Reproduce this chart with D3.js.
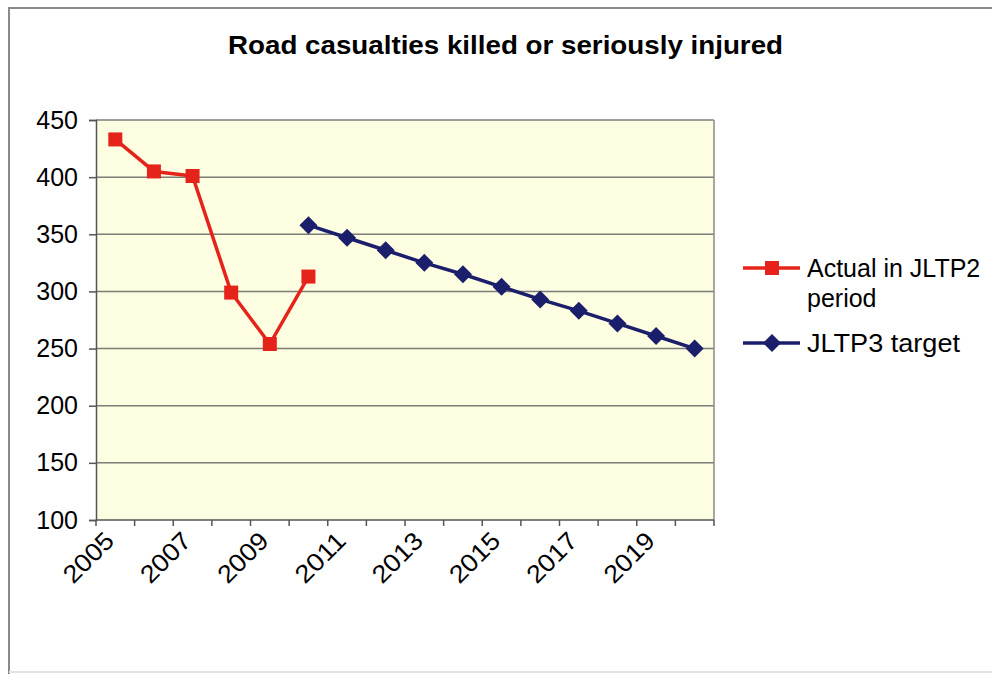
<!DOCTYPE html>
<html>
<head>
<meta charset="utf-8">
<script src="https://cdn.jsdelivr.net/npm/d3@7"></script>
<style>
  html, body { margin: 0; padding: 0; background: #fff; }
  svg { display: block; font-family: "Liberation Sans", Arial, sans-serif; }
</style>
</head>
<body>
<svg id="chart" width="992" height="674"></svg>
<script>
// Years on the category axis
const years = [2005, 2006, 2007, 2008, 2009, 2010, 2011, 2012, 2013, 2014, 2015, 2016, 2017, 2018, 2019, 2020];
// Actual casualties during the JLTP2 period
const actualYears = [2005, 2006, 2007, 2008, 2009, 2010];
const actualValues = [433, 405, 401, 299, 254, 313];
// JLTP3 target trajectory
const targetYears = [2010, 2011, 2012, 2013, 2014, 2015, 2016, 2017, 2018, 2019, 2020];
const targetValues = [358, 347, 336, 325, 315, 304, 293, 283, 272, 261, 250];
// Axis ticks
const yTicks = [100, 150, 200, 250, 300, 350, 400, 450];
const xTickLabels = [2005, 2007, 2009, 2011, 2013, 2015, 2017, 2019];
const seriesNames = ["Actual in JLTP2", "period", "JLTP3 target"];

const svg = d3.select("#chart");
const plot = { left: 96, right: 714, top: 120, bottom: 520 };
const red = "#e5231b";
const navy = "#1b1f6b";

// outer chart frame
svg.append("path")
  .attr("d", "M9,674 L9,8 L992,8")
  .attr("fill", "none").attr("stroke", "#8a8a8a").attr("stroke-width", 2);
svg.append("line")
  .attr("x1", 9).attr("x2", 992).attr("y1", 672).attr("y2", 672)
  .attr("stroke", "#e2e2e2").attr("stroke-width", 2);

const x = d3.scaleBand().domain(years).range([plot.left, plot.right]).padding(0);
const y = d3.scaleLinear().domain([100, 450]).range([plot.bottom, plot.top]);
const cx = d => x(d) + x.bandwidth() / 2;

// plot background
svg.append("rect")
  .attr("x", plot.left).attr("y", plot.top)
  .attr("width", plot.right - plot.left).attr("height", plot.bottom - plot.top)
  .attr("fill", "#fdfde1");

// horizontal gridlines
svg.append("g").selectAll("line").data(yTicks.filter(v => v > 100)).join("line")
  .attr("x1", plot.left).attr("x2", plot.right)
  .attr("y1", d => y(d)).attr("y2", d => y(d))
  .attr("stroke", "#7d7d78").attr("stroke-width", 1.5);

// right border of the plot area
svg.append("line")
  .attr("x1", plot.right).attr("x2", plot.right).attr("y1", plot.top).attr("y2", plot.bottom)
  .attr("stroke", "#8a8a8a").attr("stroke-width", 1.5);

// y axis
const yAxis = svg.append("g")
  .attr("transform", `translate(${plot.left},0)`)
  .call(d3.axisLeft(y).tickValues(yTicks).tickSize(7).tickPadding(11));
yAxis.select(".domain").attr("stroke", "#555").attr("stroke-width", 1.5);
yAxis.selectAll(".tick line").attr("stroke", "#555").attr("stroke-width", 1.5);
yAxis.selectAll(".tick text")
  .attr("font-size", 25).attr("fill", "#000")
  .attr("font-family", "Liberation Sans, Arial, sans-serif");

// x axis: tick marks on category boundaries
const xAxis = svg.append("g").attr("transform", `translate(0,${plot.bottom})`);
xAxis.append("line")
  .attr("x1", plot.left).attr("x2", plot.right)
  .attr("stroke", "#555").attr("stroke-width", 1.5);
const boundaries = years.map(d => x(d)).concat([plot.right]);
xAxis.selectAll("line.tk").data(boundaries).join("line")
  .attr("class", "tk")
  .attr("x1", d => d).attr("x2", d => d).attr("y1", 0).attr("y2", 6)
  .attr("stroke", "#555").attr("stroke-width", 1.5);
xAxis.selectAll("text").data(xTickLabels).join("text")
  .attr("transform", d => `translate(${cx(d) - 12},${10}) rotate(-45)`)
  .attr("text-anchor", "end")
  .attr("dy", "0.7em")
  .attr("font-size", 25)
  .attr("textLength", 60).attr("lengthAdjust", "spacingAndGlyphs")
  .attr("fill", "#000")
  .text(d => d);

// series lines
const line = d3.line().x(d => cx(d[0])).y(d => y(d[1]));
const actual = actualYears.map((d, i) => [d, actualValues[i]]);
const target = targetYears.map((d, i) => [d, targetValues[i]]);

svg.append("path").datum(target).attr("d", line)
  .attr("fill", "none").attr("stroke", navy).attr("stroke-width", 3.5).attr("stroke-linejoin", "round");
svg.append("path").datum(actual).attr("d", line)
  .attr("fill", "none").attr("stroke", red).attr("stroke-width", 3.5).attr("stroke-linejoin", "round");

// markers
const sq = 14, dm = 9;
svg.append("g").selectAll("path").data(target).join("path")
  .attr("d", d => { const px = cx(d[0]), py = y(d[1]);
    return `M${px},${py - dm}L${px + dm},${py}L${px},${py + dm}L${px - dm},${py}Z`; })
  .attr("fill", navy);
svg.append("g").selectAll("rect").data(actual).join("rect")
  .attr("x", d => cx(d[0]) - sq / 2).attr("y", d => y(d[1]) - sq / 2)
  .attr("width", sq).attr("height", sq).attr("fill", red);

// title
svg.append("text")
  .attr("x", 228).attr("y", 54)
  .attr("font-size", 25).attr("font-weight", "bold")
  .attr("textLength", 555).attr("lengthAdjust", "spacingAndGlyphs")
  .text("Road casualties killed or seriously injured");

// legend
const lg = svg.append("g");
lg.append("line").attr("x1", 743).attr("x2", 800).attr("y1", 268).attr("y2", 268)
  .attr("stroke", red).attr("stroke-width", 3.5);
lg.append("rect").attr("x", 772 - sq / 2).attr("y", 268 - sq / 2).attr("width", sq).attr("height", sq).attr("fill", red);
const t1 = lg.append("text").attr("x", 807).attr("y", 277).attr("font-size", 25);
t1.append("tspan").attr("x", 807).text(seriesNames[0]);
t1.append("tspan").attr("x", 807).attr("dy", 30).text(seriesNames[1]);
lg.append("line").attr("x1", 743).attr("x2", 800).attr("y1", 343).attr("y2", 343)
  .attr("stroke", navy).attr("stroke-width", 3.5);
lg.append("path")
  .attr("d", `M772,${343 - dm}L${772 + dm},343L772,${343 + dm}L${772 - dm},343Z`).attr("fill", navy);
lg.append("text").attr("x", 807).attr("y", 352).attr("font-size", 25)
  .attr("textLength", 153).attr("lengthAdjust", "spacingAndGlyphs").text(seriesNames[2]);
</script>
</body>
</html>
